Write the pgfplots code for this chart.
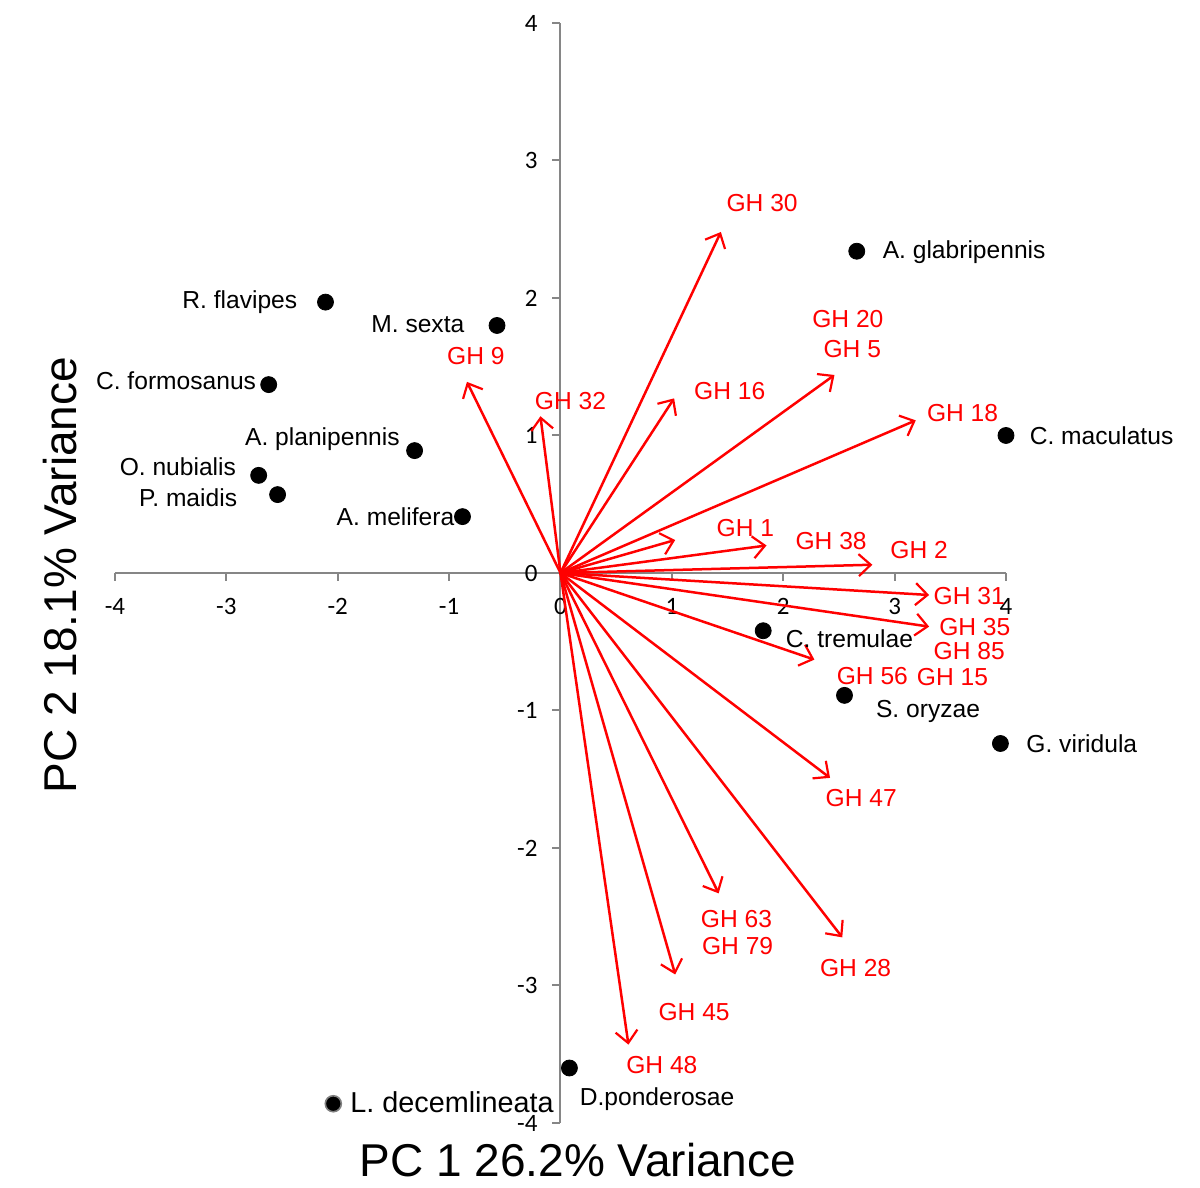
\documentclass[border=0pt]{standalone}
\usepackage{pgfplots}
\pgfplotsset{compat=1.18}
\usepackage{pgfplotstable}
\usepackage{fontspec}
\setmainfont{Liberation Sans}
\newfontfamily\carlito{Carlito}
\usetikzlibrary{arrows.meta}
\definecolor{axgray}{RGB}{134,134,134}
\definecolor{myred}{RGB}{255,0,0}

\pgfplotstableread{
x y
2.66 2.34
-2.11 1.97
-0.57 1.80
-2.62 1.37
-1.31 0.89
-2.71 0.71
-2.54 0.57
-0.88 0.41
4.00 1.00
1.82 -0.42
2.55 -0.89
3.95 -1.24
0.08 -3.60
}\species

\pgfplotstableread{
x y
-2.04 -3.86
}\ldec

\pgfplotstableread{
x y u v
0 0 1.44 2.48
0 0 -0.84 1.39
0 0 -0.18 1.14
0 0 1.02 1.27
0 0 2.46 1.44
0 0 3.19 1.11
0 0 1.03 0.24
0 0 1.85 0.20
0 0 2.80 0.06
0 0 3.31 -0.16
0 0 3.31 -0.39
0 0 2.28 -0.63
0 0 2.42 -1.49
0 0 2.53 -2.65
0 0 1.42 -2.33
0 0 1.03 -2.92
0 0 0.61 -3.43
}\loadings

\begin{document}
\begin{tikzpicture}
\useasboundingbox (-57.5pt,-32.5pt) rectangle (542.5pt,561.5pt);
\begin{axis}[at={(0,0)}, anchor=south west, scale only axis,
  width=445.5pt, height=550pt,
  xmin=-4, xmax=4, ymin=-4, ymax=4,
  axis lines=middle, axis line style={axgray, line width=1pt, -},
  xtick={-4,...,4}, ytick={-4,...,4},
  hide obscured x ticks=false, hide obscured y ticks=false,
  tick style={axgray, line width=1pt}, major tick length=4pt,
  tick align=outside,
  ticklabel style={font=\carlito\fontsize{12.5}{14}\selectfont, text=black},
  /pgf/number format/assume math mode=true,
  xticklabel style={yshift=-5pt},
  yticklabel style={xshift=-4pt},
  clip=false]

\addplot[myred, line width=1.25pt,
  quiver={u=\thisrow{u}, v=\thisrow{v},
    every arrow/.append style={-{Straight Barb[length=6pt,width=11pt,line width=1.1pt]}}}]
  table[x=x,y=y] {\loadings};

\addplot[only marks, mark=*, mark size=4pt, black] table[x=x,y=y] {\species};
\addplot[only marks, mark=*, mark size=4pt, draw=gray, fill=black, mark options={line width=0.8pt}] table[x=x,y=y] {\ldec};

\begin{scope}[every node/.style={text=myred, inner sep=0pt, font=\fontsize{12.3}{14}\selectfont}]
\node at (axis cs:1.81,2.69) {GH 30};
\node at (axis cs:2.58,1.85) {GH 20};
\node at (axis cs:2.62,1.63) {GH 5};
\node at (axis cs:1.52,1.32) {GH 16};
\node at (axis cs:0.09,1.25) {GH 32};
\node at (axis cs:-0.76,1.58) {GH 9};
\node at (axis cs:3.61,1.16) {GH 18};
\node at (axis cs:1.66,0.33) {GH 1};
\node at (axis cs:2.43,0.23) {GH 38};
\node at (axis cs:3.22,0.17) {GH 2};
\node at (axis cs:3.67,-0.17) {GH 31};
\node at (axis cs:3.72,-0.39) {GH 35};
\node at (axis cs:3.67,-0.57) {GH 85};
\node at (axis cs:2.80,-0.75) {GH 56};
\node at (axis cs:3.52,-0.76) {GH 15};
\node at (axis cs:2.70,-1.64) {GH 47};
\node at (axis cs:1.58,-2.52) {GH 63};
\node at (axis cs:1.59,-2.71) {GH 79};
\node at (axis cs:2.65,-2.87) {GH 28};
\node at (axis cs:1.20,-3.19) {GH 45};
\node at (axis cs:0.91,-3.58) {GH 48};
\end{scope}

\begin{scope}[every node/.style={text=black, inner sep=0pt, font=\fontsize{12.3}{14}\selectfont}]
\node[anchor=west] at (axis cs:2.89,2.33) {A. glabripennis};
\node[anchor=west] at (axis cs:4.21,1.00) {C. maculatus};
\node[anchor=west] at (axis cs:2.02,-0.48) {C. tremulae};
\node[anchor=west] at (axis cs:2.83,-1.01) {S. oryzae};
\node[anchor=west] at (axis cs:4.18,-1.24) {G. viridula};
\node[anchor=west] at (axis cs:0.17,-3.83) {D.ponderosae};
\node[anchor=west, font=\fontsize{14.4}{16}\selectfont] at (axis cs:-1.89,-3.85) {L. decemlineata};
\node[anchor=east] at (axis cs:-2.36,1.97) {R. flavipes};
\node[anchor=east] at (axis cs:-0.86,1.81) {M. sexta};
\node[anchor=east] at (axis cs:-2.73,1.40) {C. formosanus};
\node[anchor=east] at (axis cs:-1.44,0.97) {A. planipennis};
\node[anchor=east] at (axis cs:-2.91,0.77) {O. nubialis};
\node[anchor=east] at (axis cs:-2.90,0.55) {P. maidis};
\node[anchor=east] at (axis cs:-0.95,0.41) {A. melifera};
\end{scope}

\node[font=\fontsize{23}{28}\selectfont, inner sep=0pt] at (axis cs:0.157,-4.27) {PC 1 26.2\% Variance};
\node[font=\fontsize{23}{28}\selectfont, inner sep=0pt, rotate=90] at (axis cs:-4.49,-0.015) {PC 2 18.1\% Variance};
\end{axis}
\end{tikzpicture}
\end{document}
